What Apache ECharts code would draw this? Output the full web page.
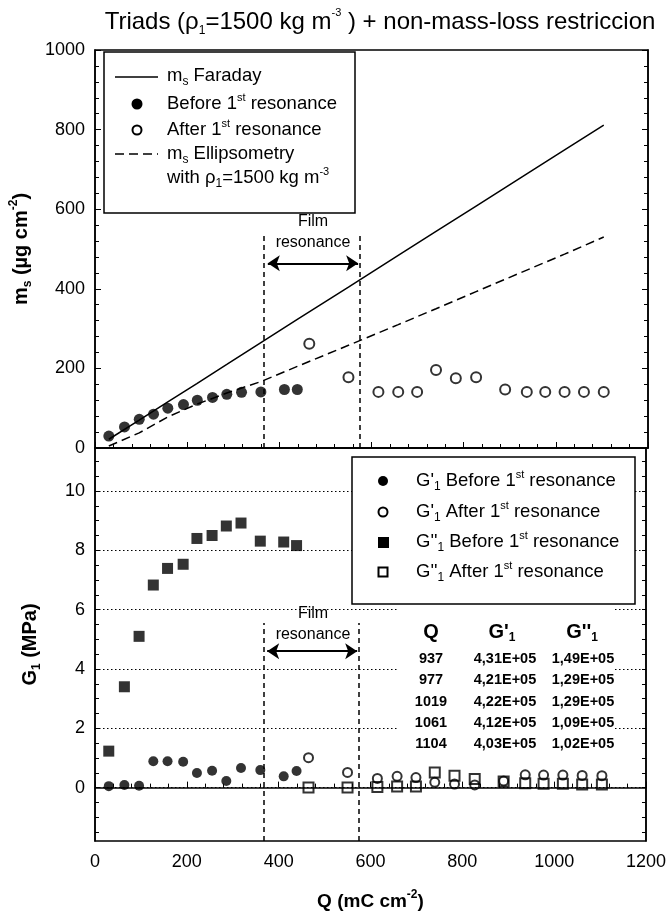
<!DOCTYPE html>
<html>
<head>
<meta charset="utf-8">
<script src="https://cdn.jsdelivr.net/npm/echarts@6/dist/echarts.min.js"></script>
<style>
  html, body { margin: 0; padding: 0; background: #fff; }
  #chart { width: 669px; height: 916px; }
</style>
</head>
<body>
<div id="chart"></div>
<script>
// charge Q (mC cm-2) of the measured points
const qBefore = [30, 64, 96, 127, 158, 192, 222, 255, 286, 318, 360, 411, 439];
const qAfter = [465, 550, 615, 658, 699, 740, 783, 827, 890, 937, 977, 1019, 1061, 1104];

// top panel: mass (ug cm-2)
const msBefore = [30, 53, 72, 85, 100, 109, 120, 127, 135, 140, 141, 147, 147];
const msAfter = [262, 178, 141, 141, 141, 196, 175, 178, 147, 141, 141, 141, 141, 141];

// Faraday and ellipsometry lines
const qLine = [30, 96, 158, 221, 286, 360, 439, 550, 658, 740, 827, 937, 1019, 1104];
const msFaraday = [22, 70, 116, 162, 210, 265, 323, 404, 484, 544, 608, 689, 749, 811];
const msEllip = [5, 38, 78, 110, 138, 167, 205, 258, 310, 350, 393, 447, 487, 530];

// bottom panel: G1 (MPa)
const g1Before = [0.05, 0.09, 0.06, 0.89, 0.89, 0.87, 0.49, 0.57, 0.22, 0.66, 0.59, 0.38, 0.56];
const g1After = [1.01, 0.51, 0.31, 0.38, 0.34, 0.18, 0.12, 0.09, 0.22, 0.431, 0.421, 0.422, 0.412, 0.403];
const g2Before = [1.23, 3.4, 5.1, 6.83, 7.39, 7.53, 8.4, 8.5, 8.82, 8.92, 8.31, 8.28, 8.16];
const g2After = [0.0, 0.0, 0.02, 0.04, 0.04, 0.51, 0.40, 0.29, 0.21, 0.149, 0.129, 0.129, 0.109, 0.102];

// film resonance window
const filmStart = 367;
const filmEnd = 575;

// table
const tableQ = ['937', '977', '1019', '1061', '1104'];
const tableG1 = ['4,31E+05', '4,21E+05', '4,22E+05', '4,12E+05', '4,03E+05'];
const tableG2 = ['1,49E+05', '1,29E+05', '1,29E+05', '1,09E+05', '1,02E+05'];

// axis ticks
const gLabels = [0, 2, 4, 6, 8, 10];
const gTicks = [-1.5, -1, -0.5, 0, 0.5, 1, 1.5, 2, 2.5, 3, 3.5, 4, 4.5, 5, 5.5, 6, 6.5, 7, 7.5, 8, 8.5, 9, 9.5, 10, 10.5, 11];

const pairs = (xs, ys) => xs.map((x, i) => [x, ys[i]]);

const FONT = 'Liberation Sans, Arial, sans-serif';
const rich = {
  s: { fontSize: 12, verticalAlign: 'bottom' },
  sup: { fontSize: 11, verticalAlign: 'top' }
};
const richBold = {
  s: { fontSize: 12, fontWeight: 'bold', verticalAlign: 'bottom' },
  sup: { fontSize: 12, fontWeight: 'bold', verticalAlign: 'top' }
};
const plain = v => String(v);

const chart = echarts.init(document.getElementById('chart'));

const G = { left: 95, width: 553 };

const xAxisBase = {
  type: 'value',
  min: 0,
  max: 1200,
  interval: 200,
  axisLine: { show: true, lineStyle: { color: '#000', width: 1.5 } },
  axisTick: { show: true, inside: true, length: 6, lineStyle: { color: '#000', width: 1 } },
  minorTick: { show: true, splitNumber: 5, length: 4, lineStyle: { color: '#000', width: 1 } },
  splitLine: { show: false }
};

const yTickStyle = {
  axisLine: { show: true, lineStyle: { color: '#000', width: 1.5 } },
  splitLine: { show: false }
};

const nameStyle = { color: '#000', fontSize: 20, fontWeight: 'bold', fontFamily: FONT, lineHeight: 26, rich: richBold };
const labelStyle = { color: '#000', fontSize: 18, fontFamily: FONT, margin: 10, formatter: plain };

// helper for text in legends / table
const txt = (x, y, text, opt) => ({
  type: 'text',
  z: 110,
  style: Object.assign({
    x: x, y: y, text: text,
    fontFamily: FONT, fontSize: 18.5, fill: '#000',
    verticalAlign: 'middle', lineHeight: 24, rich: rich
  }, opt || {})
});

const option = {
  animation: false,
  backgroundColor: '#fff',
  grid: [
    { left: G.left, width: G.width, top: 50, height: 398, show: true, borderColor: '#000', borderWidth: 1.5 },
    { left: G.left, width: G.width, top: 448, height: 398, show: true, borderColor: '#000', borderWidth: 1.5 }
  ],
  xAxis: [
    Object.assign({}, xAxisBase, { gridIndex: 0, axisLabel: { show: false } }),
    Object.assign({}, xAxisBase, {
      gridIndex: 1,
      axisLabel: Object.assign({}, labelStyle, { margin: 12 }),
      name: 'Q (mC cm{sup|-2})',
      nameLocation: 'middle',
      nameGap: 48,
      nameTextStyle: Object.assign({}, nameStyle, { fontSize: 19 })
    })
  ],
  yAxis: [
    Object.assign({}, yTickStyle, {
      gridIndex: 0, type: 'value', min: 0, max: 1000, interval: 200,
      axisTick: { show: true, inside: true, length: 6, lineStyle: { color: '#000' } },
      minorTick: { show: true, splitNumber: 5, length: 4, lineStyle: { color: '#000' } },
      axisLabel: labelStyle,
      name: 'm{s|s} (µg cm{sup|-2})',
      nameLocation: 'middle',
      nameGap: 41,
      nameTextStyle: nameStyle
    }),
    Object.assign({}, yTickStyle, {
      gridIndex: 0, type: 'value', min: 0, max: 1000, interval: 200, position: 'right',
      axisTick: { show: true, inside: true, length: 6, lineStyle: { color: '#000' } },
      minorTick: { show: true, splitNumber: 5, length: 4, lineStyle: { color: '#000' } },
      axisLabel: { show: false }
    }),
    Object.assign({}, yTickStyle, {
      gridIndex: 1, type: 'value', min: -1.8, max: 11.45,
      axisTick: { show: true, inside: true, length: 4, customValues: gTicks, lineStyle: { color: '#000' } },
      axisLabel: Object.assign({}, labelStyle, { customValues: gLabels }),
      name: 'G{s|1} (MPa)',
      nameLocation: 'middle',
      nameGap: 52,
      nameTextStyle: nameStyle
    }),
    Object.assign({}, yTickStyle, {
      gridIndex: 1, type: 'value', min: -1.8, max: 11.45, position: 'right',
      axisTick: { show: true, inside: true, length: 4, customValues: gTicks, lineStyle: { color: '#000' } },
      axisLabel: { show: false, customValues: gLabels }
    })
  ],
  series: [
    // dotted grid lines of the lower panel
    {
      type: 'line', xAxisIndex: 1, yAxisIndex: 2, data: [], z: 1, silent: true,
      markLine: {
        silent: true, symbol: ['none', 'none'], label: { show: false },
        lineStyle: { color: '#000', width: 1.2, type: [1.5, 2.5] },
        data: gLabels.map(v => ({ yAxis: v }))
      }
    },
    {
      name: 'Faraday', type: 'line', xAxisIndex: 0, yAxisIndex: 0,
      data: pairs(qLine, msFaraday), symbol: 'none',
      lineStyle: { color: '#000', width: 1.5 },
      markLine: {
        silent: true, symbol: ['none', 'none'], symbolSize: 12, label: { show: false },
        lineStyle: { color: '#000', width: 1.5, type: [5, 4] },
        data: [
          [{ coord: [filmStart, 0] }, { coord: [filmStart, 543] }],
          [{ coord: [filmEnd, 0] }, { coord: [filmEnd, 543] }],
          [{ coord: [filmStart + 8, 464], symbol: 'arrow', lineStyle: { type: 'solid', width: 2 } },
           { coord: [filmEnd - 4, 464], symbol: 'arrow' }]
        ]
      }
    },
    {
      name: 'Ellipsometry', type: 'line', xAxisIndex: 0, yAxisIndex: 0,
      data: pairs(qLine, msEllip), symbol: 'none',
      lineStyle: { color: '#000', width: 1.5, type: [9, 5] }
    },
    {
      name: 'Before', type: 'scatter', xAxisIndex: 0, yAxisIndex: 0,
      data: pairs(qBefore, msBefore), symbol: 'circle', symbolSize: 11,
      itemStyle: { color: '#000' }
    },
    {
      name: 'After', type: 'scatter', xAxisIndex: 0, yAxisIndex: 0,
      data: pairs(qAfter, msAfter), symbol: 'circle', symbolSize: 10,
      itemStyle: { color: 'rgba(255,255,255,0)', borderColor: '#000', borderWidth: 2 }
    },
    // bottom panel
    {
      name: "G'1 before", type: 'scatter', xAxisIndex: 1, yAxisIndex: 2,
      data: pairs(qBefore, g1Before), symbol: 'circle', symbolSize: 10,
      itemStyle: { color: '#000' },
      markLine: {
        silent: true, symbol: ['none', 'none'], symbolSize: 12, label: { show: false },
        lineStyle: { color: '#000', width: 1.5, type: [5, 4] },
        data: [
          [{ coord: [filmStart, -1.8] }, { coord: [filmStart, 5.55] }],
          [{ coord: [filmEnd, -1.8] }, { coord: [filmEnd, 5.55] }],
          [{ coord: [filmStart + 8, 4.6], symbol: 'arrow', lineStyle: { type: 'solid', width: 2 } },
           { coord: [filmEnd - 4, 4.6], symbol: 'arrow' }]
        ]
      }
    },
    {
      name: "G'1 after", type: 'scatter', xAxisIndex: 1, yAxisIndex: 2,
      data: pairs(qAfter, g1After), symbol: 'circle', symbolSize: 9,
      itemStyle: { color: 'rgba(255,255,255,0)', borderColor: '#000', borderWidth: 2 }
    },
    {
      name: "G''1 before", type: 'scatter', xAxisIndex: 1, yAxisIndex: 2,
      data: pairs(qBefore, g2Before), symbol: 'rect', symbolSize: 11,
      itemStyle: { color: '#000' }
    },
    {
      name: "G''1 after", type: 'scatter', xAxisIndex: 1, yAxisIndex: 2,
      data: pairs(qAfter, g2After), symbol: 'rect', symbolSize: 10,
      itemStyle: { color: 'rgba(255,255,255,0)', borderColor: '#000', borderWidth: 2 }
    }
  ],
  graphic: [
    // title
    txt(380, 22, 'Triads (ρ{s|1}=1500 kg m{sup|-3} ) + non-mass-loss restriccion', { align: 'center', fontSize: 24, lineHeight: 29 }),

    // film resonance labels
    txt(313, 222, 'Film', { align: 'center', fontSize: 16 }),
    txt(313, 243, 'resonance', { align: 'center', fontSize: 16 }),
    txt(313, 614, 'Film', { align: 'center', fontSize: 16 }),
    txt(313, 635, 'resonance', { align: 'center', fontSize: 16 }),

    // top legend
    { type: 'rect', z: 100, shape: { x: 104, y: 52, width: 251, height: 161 }, style: { fill: '#fff', stroke: '#000', lineWidth: 1.5 } },
    { type: 'line', z: 110, shape: { x1: 115, y1: 77, x2: 158, y2: 77 }, style: { stroke: '#000', lineWidth: 1.5 } },
    txt(167, 76, 'm{s|s} Faraday'),
    { type: 'circle', z: 110, shape: { cx: 137, cy: 104, r: 5.5 }, style: { fill: '#000' } },
    txt(167, 104, 'Before 1{sup|st} resonance'),
    { type: 'circle', z: 110, shape: { cx: 137, cy: 130, r: 4.5 }, style: { fill: '#fff', stroke: '#000', lineWidth: 2 } },
    txt(167, 130, 'After 1{sup|st} resonance'),
    { type: 'line', z: 110, shape: { x1: 115, y1: 154, x2: 158, y2: 154 }, style: { stroke: '#000', lineWidth: 1.5, lineDash: [9, 5] } },
    txt(167, 154, 'm{s|s} Ellipsometry'),
    txt(167, 178, 'with ρ{s|1}=1500 kg m{sup|-3}'),

    // bottom legend
    { type: 'rect', z: 100, shape: { x: 352, y: 457, width: 283, height: 147 }, style: { fill: '#fff', stroke: '#000', lineWidth: 1.5 } },
    { type: 'circle', z: 110, shape: { cx: 383, cy: 481, r: 5 }, style: { fill: '#000' } },
    txt(416, 481, "G'{s|1} Before 1{sup|st} resonance"),
    { type: 'circle', z: 110, shape: { cx: 383, cy: 512, r: 4.5 }, style: { fill: '#fff', stroke: '#000', lineWidth: 2 } },
    txt(416, 512, "G'{s|1} After 1{sup|st} resonance"),
    { type: 'rect', z: 110, shape: { x: 378, y: 537, width: 11, height: 11 }, style: { fill: '#000' } },
    txt(416, 542, "G''{s|1} Before 1{sup|st} resonance"),
    { type: 'rect', z: 110, shape: { x: 378.5, y: 567.5, width: 9, height: 9 }, style: { fill: '#fff', stroke: '#000', lineWidth: 2 } },
    txt(416, 572, "G''{s|1} After 1{sup|st} resonance"),

    // table background and text
    { type: 'rect', z: 100, shape: { x: 397, y: 607, width: 217, height: 146 }, style: { fill: '#fff' } },
    txt(431, 632, 'Q', { align: 'center', fontSize: 20, fontWeight: 'bold', rich: richBold }),
    txt(502, 632, "G'{s|1}", { align: 'center', fontSize: 20, fontWeight: 'bold', rich: richBold }),
    txt(582, 632, "G''{s|1}", { align: 'center', fontSize: 20, fontWeight: 'bold', rich: richBold })
  ].concat(
    tableQ.flatMap((q, i) => {
      const y = 659 + i * 21.3;
      const st = { align: 'center', fontSize: 14.5, fontWeight: 'bold', lineHeight: 17 };
      return [txt(431, y, q, st), txt(505, y, tableG1[i], st), txt(583, y, tableG2[i], st)];
    })
  )
};

chart.setOption(option);
</script>
</body>
</html>
